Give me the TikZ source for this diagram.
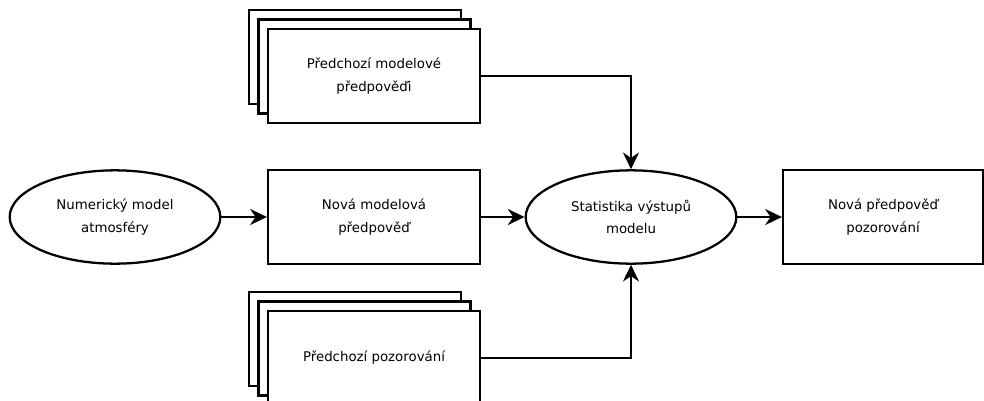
\documentclass[tikz,border=0pt]{standalone}
\usepackage{fontspec}
\setmainfont{DejaVu Sans}
\usetikzlibrary{shapes.geometric,arrows.meta}
\tikzset{
  blok/.style={draw,line width=1.7pt,fill=white,minimum width=159pt,minimum height=70.5pt,align=center,font=\fontsize{10}{17}\selectfont},
  elipsa/.style={ellipse,draw,line width=1.7pt,fill=white,minimum width=158pt,minimum height=70pt,inner sep=0pt,align=center,font=\fontsize{10}{17}\selectfont},
  sipka/.style={line width=1.7pt,-{Stealth[length=12.5pt,width=12pt,inset=4pt]}}
}
\begin{document}
\begin{tikzpicture}[x=0.75pt,y=-0.75pt]
      \useasboundingbox (0,0) rectangle (984,400);
      % horni stoh
      \node[blok] (hore3) at (355,57) {};
      \node[blok] (hore2) at (364.5,66.5) {};
      \node[blok] (hore) at (374,76) {Předchozí modelové\\předpověďi};
      % dolni stoh
      \node[blok] (dole3) at (355,339) {};
      \node[blok] (dole2) at (364.5,348.5) {};
      \node[blok] (dole) at (374,358) {Předchozí pozorování};
      % hlavni rada
      \node[elipsa] (model) at (115,217) {Numerický model\\atmosféry};
      \node[blok] (nova) at (374,217) {Nová modelová\\ předpověď};
      \node[elipsa] (stat) at (631,217) {Statistika výstupů\\modelu};
      \node[blok,minimum width=150pt] (vystup) at (883,217) {Nová předpověď\\pozorování};
      \draw[sipka] (model) -- (nova);
      \draw[sipka] (nova) -- (stat);
      \draw[sipka] (stat) -- (vystup);
      \draw[sipka] (hore.east) -| (stat.north);
      \draw[sipka] (dole.east) -| (stat.south);
    \end{tikzpicture}
\end{document}
